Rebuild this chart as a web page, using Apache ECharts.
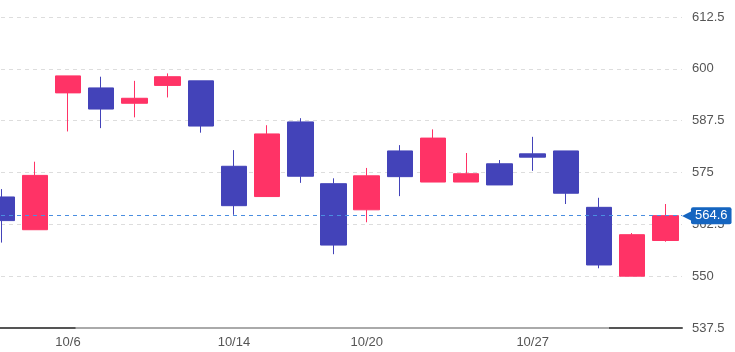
<!DOCTYPE html>
<html>
<head>
<meta charset="utf-8">
<script src="https://cdn.jsdelivr.net/npm/echarts@6/dist/echarts.min.js"></script>
<style>
    html, body { margin: 0; padding: 0; background: #fff; overflow: hidden; }
    /* 第一根K线被左边裁掉一半，所以整体左移 */
    #kChart { width: 750px; height: 352px; margin-left: -15px; }
</style>
</head>
<body>
<div id="kChart"></div>
<script>
// 日期
var dates = ['10/2', '10/3', '10/6', '10/7', '10/8', '10/9', '10/10', '10/14', '10/15', '10/16', '10/17',
    '10/20', '10/21', '10/22', '10/23', '10/24', '10/27', '10/28', '10/29', '10/30', '10/31'];
// 开盘 / 收盘 / 最低 / 最高
var opens  = [569.1, 561.2, 594.2, 595.4, 591.7, 596.0, 597.1, 576.5, 569.2, 587.2, 572.3,
    566.0, 580.2, 572.7, 572.7, 577.1, 579.5, 580.2, 566.6, 550.0, 558.6];
var closes = [563.4, 574.3, 598.3, 590.3, 592.9, 598.1, 586.2, 567.0, 584.3, 574.1, 557.5,
    574.2, 574.0, 583.3, 574.7, 572.0, 578.7, 570.0, 552.7, 560.0, 564.6];
var lows   = [558.1, 561.2, 584.9, 585.7, 588.3, 593.1, 584.6, 564.8, 569.2, 572.5, 555.3,
    563.0, 569.3, 572.7, 572.7, 572.0, 575.4, 567.4, 551.9, 550.0, 558.3];
var highs  = [571.0, 577.6, 598.3, 598.1, 597.1, 598.9, 597.1, 580.4, 586.4, 588.1, 573.6,
    576.1, 581.6, 585.4, 579.7, 578.0, 583.6, 580.2, 568.9, 560.4, 567.4];
// x 轴显示的日期（每周第一个交易日）
var tickDates = ['10/6', '10/14', '10/20', '10/27'];
var lastPrice = 564.6;

var kData = [];
for (var i = 0; i < dates.length; i++) {
    kData[i] = [opens[i], closes[i], lows[i], highs[i]];
}

var upColor = '#ff3366';
var downColor = '#4343b9';

var kChart = echarts.init(document.getElementById('kChart'));
var kChartOption = {
    animation: false,
    textStyle: {fontFamily: 'Arial, Liberation Sans, sans-serif'},
    grid: {
        left: 0,
        right: 53,
        top: 17,
        bottom: 24
    },
    xAxis: {
        type: 'category',
        data: dates,
        boundaryGap: true,
        axisTick: {show: false},
        axisLine: {
            lineStyle: {
                width: 2,
                color: new echarts.graphic.LinearGradient(0, 0, 1, 0, [
                    {offset: 0, color: '#555'},
                    {offset: 0.132, color: '#555'},
                    {offset: 0.133, color: '#aaa'},
                    {offset: 0.892, color: '#aaa'},
                    {offset: 0.893, color: '#555'},
                    {offset: 1, color: '#555'}
                ])
            }
        },
        axisLabel: {
            color: '#555',
            fontSize: 13,
            margin: 8,
            interval: function (index, value) {
                return tickDates.indexOf(value) >= 0;
            }
        },
        splitLine: {show: false}
    },
    yAxis: {
        type: 'value',
        position: 'right',
        min: 537.5,
        max: 612.5,
        interval: 12.5,
        axisLine: {show: false},
        axisTick: {show: false},
        axisLabel: {color: '#555', fontSize: 13, margin: 10},
        splitLine: {lineStyle: {color: '#ddd', type: [4, 4]}}
    },
    series: [
        {
            name: 'K',
            type: 'candlestick',
            data: kData,
            barWidth: '78%',
            itemStyle: {
                color: upColor,
                color0: downColor,
                borderColor: upColor,
                borderColor0: downColor,
                borderWidth: 1
            },
            markLine: {
                silent: true,
                symbol: ['none', 'none'],
                lineStyle: {color: '#4a8ee0', type: [4, 4], width: 1},
                label: {
                    position: 'end',
                    distance: 0,
                    formatter: '{t|◀}{b|' + lastPrice + '}',
                    rich: {
                        t: {color: '#1565c0', fontSize: 15, padding: [0, -3, 0, 0]},
                        b: {
                            color: '#fff',
                            fontSize: 13,
                            backgroundColor: '#1565c0',
                            padding: [2, 4, 2, 4],
                            borderRadius: 2
                        }
                    }
                },
                data: [{yAxis: lastPrice}]
            }
        }
    ]
};
kChart.setOption(kChartOption);
</script>
</body>
</html>
